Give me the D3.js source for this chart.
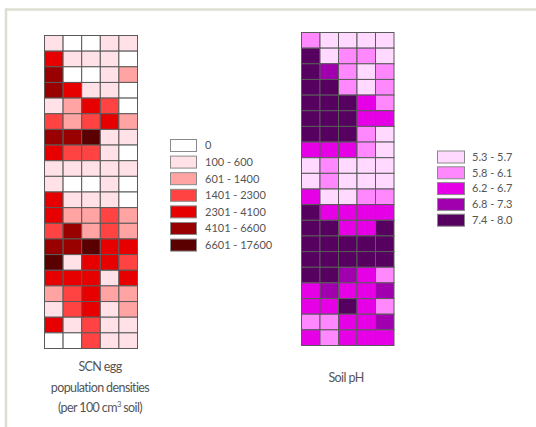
<!DOCTYPE html>
<html><head><meta charset="utf-8">
<script src="https://cdn.jsdelivr.net/npm/d3@7"></script>
<style>
body{margin:0;background:#fff;}
svg{display:block;}
text{font-family:Lato,"Open Sans",sans-serif;fill:#555;}
</style></head>
<body>
<svg id="chart" width="536" height="427"></svg>
<script>
// SCN egg density class index per cell (row by row, 5 columns)
const scnClasses = [
 [1,0,0,1,1],[4,1,1,1,0],[5,0,0,1,2],[5,4,1,1,0],[1,2,4,3,0],
 [3,2,3,4,2],[5,5,6,1,1],[4,3,3,1,0],[1,1,1,1,1],[1,0,0,1,0],
 [4,1,1,1,0],[4,2,2,3,2],[3,5,2,3,2],[5,5,6,4,4],[6,1,4,4,3],
 [4,4,4,1,4],[2,3,4,2,2],[1,3,4,1,2],[4,1,3,1,1],[0,0,3,1,1]
];
const scnLabels = ["0","100 - 600","601 - 1400","1401 - 2300","2301 - 4100","4101 - 6600","6601 - 17600"];
const scnColors = ["#ffffff","#ffe1e7","#ffa3a3","#ff4343","#e60000","#990000","#5a0000"];

// Soil pH class index per cell
const phClasses = [
 [1,0,0,0,0],[4,0,1,1,0],[4,3,1,0,1],[4,4,1,0,1],[4,4,4,2,1],
 [4,4,4,2,2],[4,4,4,1,0],[2,2,2,1,0],[0,1,0,0,0],[0,1,0,0,0],
 [2,0,0,1,1],[4,2,2,2,2],[4,4,2,2,4],[4,4,4,4,4],[4,4,4,4,4],
 [4,4,3,2,1],[2,3,2,2,3],[2,2,4,2,1],[1,1,2,2,3],[2,1,2,2,2]
];
const phLabels = ["5.3 - 5.7","5.8 - 6.1","6.2 - 6.7","6.8 - 7.3","7.4 - 8.0"];
const phColors = ["#ffd9ff","#ff88ff","#e600e6","#a000ae","#560060"];

const svg = d3.select("#chart");

// frame
svg.append("line").attr("x1",6).attr("x2",536).attr("y1",9.5).attr("y2",9.5)
  .attr("stroke","#dcdfd0").attr("stroke-width",2.5);
svg.append("line").attr("x1",6).attr("x2",6).attr("y1",8.3).attr("y2",427)
  .attr("stroke","#dcdfd0").attr("stroke-width",2.5);

function grid(data, colors, x0, x1, y0, y1){
  const cols = d3.range(data[0].length), rows = d3.range(data.length);
  const x = d3.scaleBand().domain(cols).range([x0,x1]);
  const y = d3.scaleBand().domain(rows).range([y0,y1]);
  const color = d3.scaleOrdinal().domain(d3.range(colors.length)).range(colors);
  const cells = [];
  data.forEach((r,i)=>r.forEach((v,j)=>cells.push({i,j,v})));
  svg.append("g").selectAll("rect").data(cells).join("rect")
    .attr("x",d=>x(d.j)).attr("y",d=>y(d.i))
    .attr("width",x.bandwidth()).attr("height",y.bandwidth())
    .attr("fill",d=>color(d.v)).attr("stroke","#5a5a5a").attr("stroke-width",1);
}
grid(scnClasses, scnColors, 44.5, 137.5, 35.5, 348.5);
grid(phClasses, phColors, 301.5, 394, 32.5, 345.5);

function legend(labels, colors, bx, tx, y0, pitch, bw, bh){
  const y = d3.scalePoint().domain(d3.range(labels.length)).range([y0, y0+pitch*(labels.length-1)]);
  const g = svg.append("g");
  g.selectAll("rect").data(labels).join("rect")
    .attr("x",bx).attr("y",(d,i)=>y(i)-bh/2).attr("width",bw).attr("height",bh)
    .attr("fill",(d,i)=>colors[i]).attr("stroke","#8a8a8a").attr("stroke-width",1);
  g.selectAll("text").data(labels).join("text")
    .attr("x",tx).attr("y",(d,i)=>y(i)).attr("dy","0.35em")
    .style("font-size","11px").text(d=>d);
}
legend(scnLabels, scnColors, 170.5, 205, 145.5, 16.6, 26, 12);
legend(phLabels, phColors, 437.5, 472, 157, 15.8, 27, 12);

// titles
const t1 = svg.append("text").attr("text-anchor","middle").style("font-size","12.5px")
  .style("letter-spacing","-0.6px");
t1.append("tspan").attr("x",100).attr("y",371).text("SCN egg");
t1.append("tspan").attr("x",100).attr("y",392).text("population densities");
t1.append("tspan").attr("x",100).attr("y",412).text("(per 100 cm");
t1.append("tspan").attr("dy","-5").style("font-size","7.5px").text("3");
t1.append("tspan").attr("dy","5").text(" soil)");
svg.append("text").attr("x",346).attr("y",382).attr("text-anchor","middle")
  .style("font-size","12.5px").style("letter-spacing","-0.6px").text("Soil pH");
</script>
</body></html>
